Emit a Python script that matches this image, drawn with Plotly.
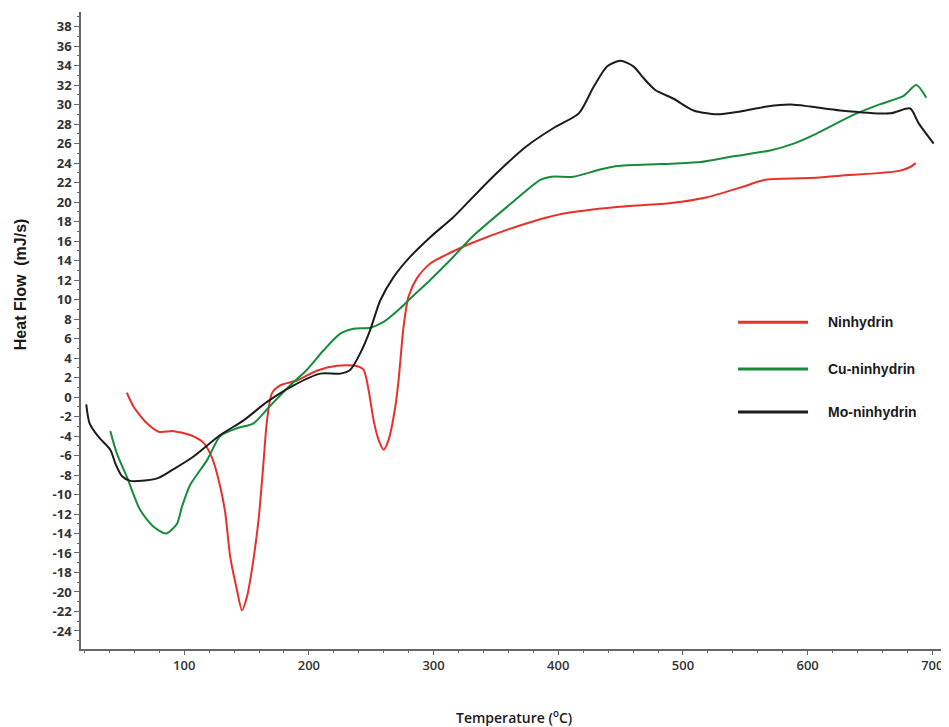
import plotly.graph_objects as go

# ---- data ----
series_names = ["Ninhydrin", "Cu-ninhydrin", "Mo-ninhydrin"]
series_colors = ["#e8302a", "#168b3c", "#1c1c1c"]

nin_x = [54, 59.4, 70.1, 79.5, 91.5, 104.8, 115.5, 122.2, 128.9, 132.9, 136.9, 142.3,
         146.3, 150.3, 154.3, 159.6, 163.1, 166.4, 170.4, 177, 190.4, 206.4, 222.5,
         237.2, 243.8, 247.9, 251.9, 255.9, 259.9, 263.9, 269.3, 271.9, 275.9, 279.9,
         286.7, 297.3, 313.4, 330.7, 374.3, 403.4, 446.9, 490.6, 519.6, 548.7, 566.2,
         606.8, 626.2, 673.6, 682.3, 686.7]
nin_y = [0.44, -1.0, -2.7, -3.56, -3.5, -3.9, -4.7, -6.2, -9.2, -11.9, -16.4, -19.8,
         -21.9, -20.5, -17.7, -12.6, -7.5, -2.4, 0.4, 1.2, 1.7, 2.7, 3.2,
         3.2, 2.8, 0.7, -2.4, -4.4, -5.4, -4.4, -1.0, 1.7, 7.2, 10.3,
         12.2, 13.7, 14.8, 15.8, 17.8, 18.8, 19.5, 19.9, 20.5, 21.6, 22.3,
         22.5, 22.7, 23.2, 23.6, 24.0]

cu_x = [40.7, 46, 54, 64.7, 75.4, 85.6, 94.2, 98.2, 104.8, 118.2, 128.9, 142.3, 155.6,
        169, 185, 198.4, 211.8, 225.2, 235.8, 249.2, 259.9, 273.3, 281.3, 297.3, 313.4,
        330.7, 362.6, 385.9, 394.6, 412, 432.4, 447.1, 481.8, 513.9, 540.6, 570, 588.8,
        606.8, 635.8, 658.3, 677, 687.2, 695.2]
cu_y = [-3.5, -5.8, -8.2, -11.6, -13.3, -14.0, -13.0, -11.25, -9.0, -6.5, -4.0, -3.2, -2.7,
        -0.9, 1.2, 2.8, 4.8, 6.5, 7.0, 7.1, 7.7, 9.1, 10.1, 12.0, 14.05,
        16.4, 19.9, 22.3, 22.6, 22.6, 23.3, 23.7, 23.9, 24.1, 24.7, 25.3, 26.0,
        27.0, 28.9, 30.05, 30.9, 32.0, 30.7]

mo_x = [21.4, 24.1, 31.3, 40.7, 44.7, 50, 56.7, 66.1, 79.4, 91.5, 107.5, 128.9, 147.6,
        166.4, 187.8, 209.1, 225.2, 233.2, 241.2, 249.2, 257.2, 267.9, 281.3, 297.3,
        316.2, 345.2, 374.3, 397.5, 416.5, 428.3, 439.1, 449.8, 460.5, 468.5, 477.8,
        492.5, 508.5, 527.3, 546, 567.4, 586.1, 602.1, 626.2, 666.3, 682.3, 689, 701.1]
mo_y = [-0.75, -2.7, -4.1, -5.4, -6.8, -8.1, -8.6, -8.6, -8.3, -7.4, -6.1, -3.9, -2.4,
        -0.5, 1.2, 2.4, 2.4, 2.8, 4.5, 6.9, 9.9, 12.3, 14.4, 16.4,
        18.5, 22.3, 25.7, 27.7, 29.1, 31.8, 33.9, 34.5, 33.9, 32.7, 31.5,
        30.6, 29.4, 29.0, 29.3, 29.8, 30.0, 29.8, 29.4, 29.1, 29.6, 28.1, 26.0]

x_tick_vals = [100, 200, 300, 400, 500, 600, 700]
y_tick_vals = list(range(-24, 39, 2))
y_tick_text = [str(v) for v in y_tick_vals]

x_title = "Temperature (<sup>o</sup>C)"
y_title = "Heat Flow  (mJ/s)"

# ---- figure ----
fig = go.Figure()
for name, color, xs, ys in zip(series_names, series_colors,
                                [nin_x, cu_x, mo_x], [nin_y, cu_y, mo_y]):
    fig.add_trace(go.Scatter(x=xs, y=ys, mode="lines", name=name,
                             line=dict(color=color, width=2, shape="spline", smoothing=0.7),
                             showlegend=False))

axis_color = "#666666"
fig.update_xaxes(range=[17.2, 711], tickmode="array", tickvals=x_tick_vals,
                 showgrid=False, zeroline=False, showline=True, linecolor=axis_color,
                 linewidth=1.5, ticks="outside", ticklen=4, tickcolor=axis_color,
                 tickfont=dict(family="Open Sans", size=13, color="#333333", weight=600),
                 minor=dict(dtick=20, tick0=0, ticks="outside", ticklen=2, tickcolor=axis_color))
fig.update_yaxes(range=[-25.85, 39.5], tickmode="array", tickvals=y_tick_vals,
                 ticktext=y_tick_text,
                 showgrid=False, zeroline=False, showline=True, linecolor=axis_color,
                 linewidth=1.5, ticks="outside", ticklen=5, tickcolor=axis_color,
                 tickfont=dict(family="Open Sans", size=13, color="#333333", weight=700),
                 minor=dict(dtick=1, tick0=0, ticks="outside", ticklen=2, tickcolor=axis_color))

# manual legend (long line samples as in the reference)
legend_y = [0.5131, 0.4394, 0.3719]
for name, color, ly in zip(series_names, series_colors, legend_y):
    fig.add_shape(type="line", xref="paper", yref="paper", x0=0.7596, x1=0.8405,
                  y0=ly, y1=ly, line=dict(color=color, width=3))
    fig.add_annotation(xref="paper", yref="paper", x=0.8613, y=ly, text=name,
                       showarrow=False, xanchor="left", yanchor="middle",
                       font=dict(family="Liberation Sans", size=14, color="#1a1a1a", weight=700))

fig.add_annotation(xref="paper", yref="paper", x=0.5, y=-0.1067, text=x_title,
                   showarrow=False, xanchor="center", yanchor="middle",
                   font=dict(family="Open Sans", size=14, color="#1a1a1a", weight=600))
fig.add_annotation(xref="paper", yref="paper", x=-0.0705, y=0.5727, text=y_title,
                   showarrow=False, xanchor="center", yanchor="middle", textangle=-90,
                   font=dict(family="Liberation Sans", size=16, color="#1a1a1a", weight=700))

# the page body adds an 8 px offset, so the figure is 8 px smaller and margins shifted
fig.update_layout(width=941, height=719, paper_bgcolor="white", plot_bgcolor="white",
                  margin=dict(l=72.7, r=3, t=3.7, b=78, autoexpand=False))

fig.write_html("out.html")
